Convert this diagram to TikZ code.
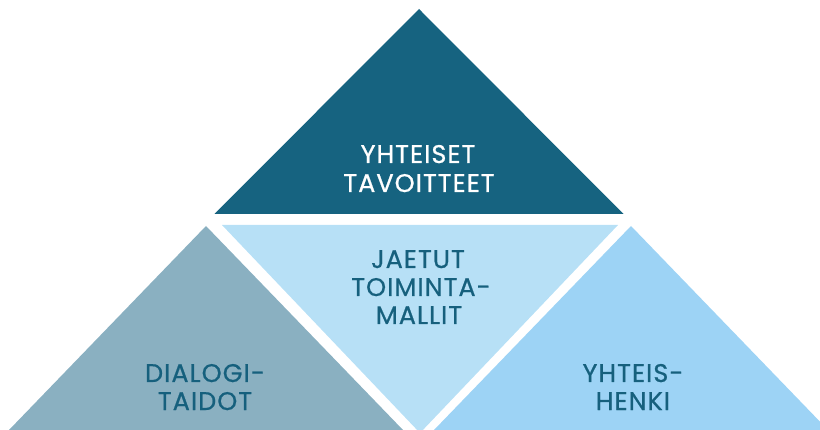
\documentclass[tikz,border=0pt]{standalone}
\usepackage{fontspec}
\setmainfont{Poppins}[FakeBold=0.7,LetterSpace=4]
\definecolor{topteal}{RGB}{22,99,128}
\definecolor{graybl}{RGB}{138,176,193}
\definecolor{midbl}{RGB}{183,224,246}
\definecolor{rightbl}{RGB}{157,211,245}
\definecolor{txtteal}{RGB}{22,96,125}
\begin{document}
\begin{tikzpicture}[x=1pt,y=-1pt,
  lab/.style={font=\fontsize{25.5}{28}\selectfont, anchor=base, inner sep=0pt, text=txtteal}]
\useasboundingbox (0,0) rectangle (820,430);
\begin{scope}
\clip (0,0) rectangle (820,430);
\fill[topteal] (419,9) -- (623.5,214) -- (214.5,214) -- cycle;
\fill[graybl] (206,226) -- (403,430) -- (9,430) -- cycle;
\fill[midbl] (222,225) -- (618,225) -- (420,433) -- cycle;
\fill[rightbl] (631,226) -- (828,430) -- (434,430) -- cycle;
\end{scope}
\node[lab,text=white] (t1) at (418,163) {YHTEISET};
\node[lab,text=white] (t2) at (419,192) {TAVOITTEET};
\node[lab] (m1) at (418,268) {JAETUT};
\node[lab] (m2) at (421,296) {TOIMINTA-};
\node[lab] (m3) at (419,324) {MALLIT};
\node[lab] (l1) at (205,382) {DIALOGI-};
\node[lab] (l2) at (205,410) {TAIDOT};
\node[lab] (r1) at (633,382) {YHTEIS-};
\node[lab] (r2) at (633,410) {HENKI};
\end{tikzpicture}
\end{document}
